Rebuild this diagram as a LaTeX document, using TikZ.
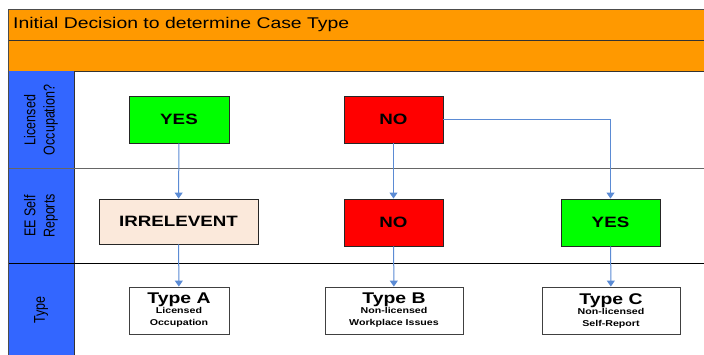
\documentclass[tikz,border=0pt]{standalone}
\usepackage{fontspec}
\setmainfont[FakeStretch=1.25]{Liberation Sans}
\newfontfamily\lanefont{Liberation Sans}
\usetikzlibrary{arrows.meta}

\definecolor{hdrorange}{HTML}{FF9900}
\definecolor{laneblue}{HTML}{3366FF}
\definecolor{arrowblue}{HTML}{5B8BD4}
\definecolor{yesgreen}{HTML}{00FF00}
\definecolor{nored}{HTML}{FF0000}
\definecolor{peach}{HTML}{FBE9DB}

\newcommand{\typetitle}{\fontsize{15.5}{15.5}\selectfont}
\newcommand{\typesub}{\fontsize{8.5}{9.5}\selectfont}

\tikzset{
	decision/.style={draw=black!85,line width=0.9pt,inner sep=0pt,font=\bfseries\fontsize{15}{16}\selectfont},
	typebox/.style={draw=black!75,line width=0.9pt,fill=white,inner sep=0pt,align=center,font=\bfseries},
	lanelabel/.style={rotate=90,yscale=1.25,align=center,font=\lanefont\fontsize{12.5}{15.5}\selectfont},
	flow/.style={draw=arrowblue,line width=1pt,-{Triangle[length=6pt,width=8pt]}}
}

\begin{document}
\begin{tikzpicture}[x=1pt,y=-1pt]
	\useasboundingbox (0,0) rectangle (704,354);
	\clip (0,0) rectangle (704,354);

	%header bands
	\fill[hdrorange] (8,9) rectangle (708,71);
	\draw[black!80,line width=0.9pt] (8,40)--(708,40);
	\draw[black!80,line width=0.9pt] (8,71)--(708,71);
	\node[anchor=west,inner sep=0pt,font=\fontsize{15.5}{16}\selectfont] (title) at (13,24) {Initial Decision to determine Case Type};

	%lane heads
	\fill[laneblue] (8,71) rectangle (74,358);
	\draw[black!80,line width=0.9pt] (74,71)--(74,358);
	\draw[black!60,line width=0.9pt] (8,168)--(708,168);	%row 1/2
	\draw[black,line width=0.9pt] (8,263)--(708,263);		%row 2/3
	\node[lanelabel] (laneA) at (41,120) {Licensed\\Occupation?};
	\node[lanelabel] (laneB) at (41,216) {EE Self\\Reports};
	\node[lanelabel] (laneC) at (41,310) {Type};

	%outer frame
	\draw[black!70,line width=1pt] (8,358)--(8,9)--(708,9);

	%decisions
	\node[decision,fill=yesgreen,minimum width=100pt,minimum height=47pt] (yes1) at (179,119.5) {YES};
	\node[decision,fill=nored,minimum width=99pt,minimum height=47pt] (no1) at (393.5,119.5) {NO};
	\node[decision,fill=peach,minimum width=159pt,minimum height=45pt] (irr) at (178.5,221.5) {IRRELEVENT};
	\node[decision,fill=nored,minimum width=99pt,minimum height=47pt] (no2) at (393.5,222.5) {NO};
	\node[decision,fill=yesgreen,minimum width=99pt,minimum height=47pt] (yes2) at (610.5,222.5) {YES};

	%case types
	\node[typebox,minimum width=100pt,minimum height=47pt] (typeA) at (179,310.5)
		{\typetitle Type A\\[-2pt]\typesub Licensed\\\typesub Occupation};
	\node[typebox,minimum width=138pt,minimum height=47pt] (typeB) at (394,310.5)
		{\typetitle Type B\\[-2pt]\typesub Non-licensed\\\typesub Workplace Issues};
	\node[typebox,minimum width=138pt,minimum height=47pt] (typeC) at (611,310.5)
		{\typetitle Type C\\[-2pt]\typesub Non-licensed\\\typesub Self-Report};

	%connectors
	\draw[flow] (yes1)--(irr);
	\draw[flow] (irr)--(typeA);
	\draw[flow] (no1)--(no2);
	\draw[flow] (no2)--(typeB);
	\draw[flow] (no1.east)-|(yes2.north);
	\draw[flow] (yes2)--(typeC);
\end{tikzpicture}
\end{document}
